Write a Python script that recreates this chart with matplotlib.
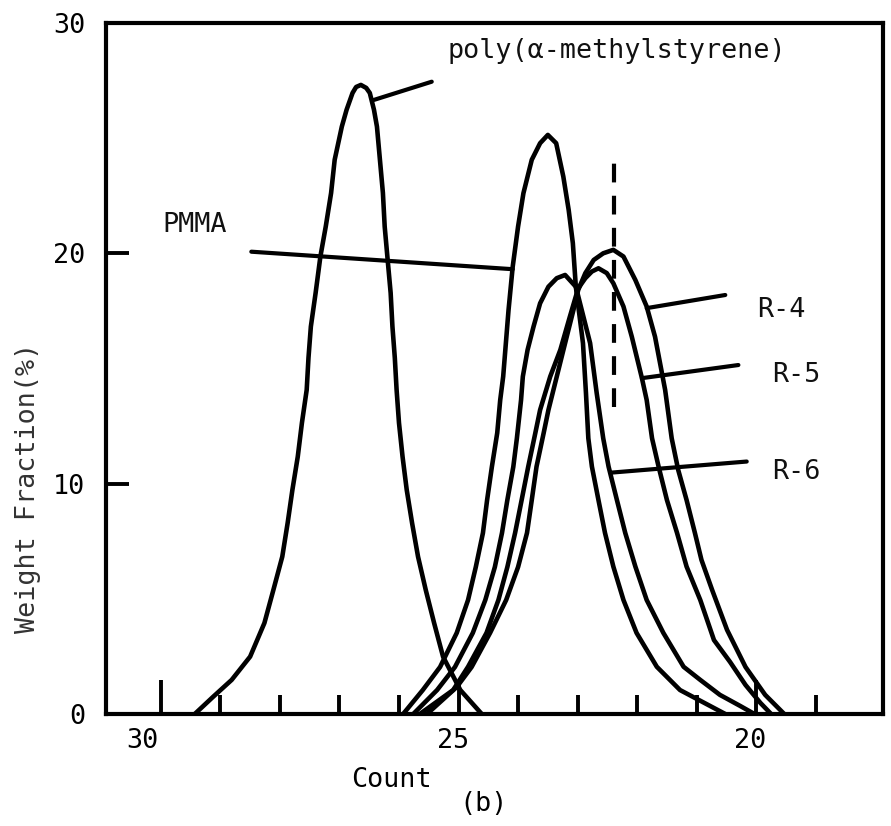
import matplotlib
matplotlib.use('Agg')
import matplotlib.pyplot as plt
from matplotlib.transforms import ScaledTranslation

plt.rcParams['font.family'] = ['DejaVu Sans Mono', 'DejaVu Sans']

# GPC traces (count, weight fraction %)
pams_count = [29.43, 29.12, 28.81, 28.50, 28.26, 28.11, 27.96, 27.87, 27.79, 27.70,
              27.63, 27.55, 27.52, 27.48, 27.40, 27.32, 27.23, 27.14, 27.08, 26.96,
              26.88, 26.78, 26.72, 26.64, 26.55, 26.49, 26.42, 26.37, 26.32, 26.27,
              26.24, 26.19, 26.14, 26.11, 26.07, 26.04, 26.00, 25.94, 25.87, 25.78,
              25.68, 25.55, 25.41, 25.26, 24.97, 24.61]
pams_wf = [0.0, 0.75, 1.48, 2.49, 3.95, 5.38, 6.83, 8.29, 9.73, 11.17,
           12.64, 14.07, 15.46, 16.82, 18.28, 19.86, 21.16, 22.62, 24.06, 25.50,
           26.23, 26.96, 27.22, 27.31, 27.18, 26.96, 26.23, 25.50, 24.06, 22.62,
           21.16, 19.71, 18.28, 16.82, 15.46, 14.07, 12.64, 11.17, 9.73, 8.29,
           6.83, 5.38, 3.95, 2.49, 1.04, 0.0]

pmma_count = [25.93, 25.60, 25.31, 25.03, 24.84, 24.71, 24.59, 24.52, 24.44, 24.35,
              24.30, 24.25, 24.16, 24.09, 24.00, 23.91, 23.77, 23.63, 23.50, 23.36,
              23.24, 23.15, 23.08, 23.03, 22.91, 22.86, 22.82, 22.76, 22.65, 22.54,
              22.40, 22.23, 22.01, 21.67, 21.28, 20.52]
pmma_wf = [0.0, 1.04, 2.04, 3.52, 4.95, 6.38, 7.86, 9.29, 10.73, 12.20,
           13.63, 14.65, 17.54, 19.42, 21.16, 22.61, 24.06, 24.78, 25.14, 24.78,
           23.33, 21.88, 20.44, 18.55, 16.10, 13.94, 11.97, 10.74, 9.29, 7.86,
           6.40, 4.95, 3.52, 2.05, 1.04, 0.0]

r6_count = [25.76, 25.36, 25.06, 24.76, 24.55, 24.39, 24.27, 24.18, 24.08, 24.02,
            23.95, 23.92, 23.84, 23.74, 23.63, 23.49, 23.35, 23.21, 23.03, 22.79,
            22.68, 22.57, 22.48, 22.34, 22.20, 22.03, 21.84, 21.56, 21.22, 20.94,
            20.61, 20.27, 20.03]
r6_wf = [0.0, 1.04, 2.04, 3.52, 4.95, 6.38, 7.86, 9.29, 10.73, 11.97,
         13.63, 14.65, 15.81, 16.82, 17.83, 18.55, 18.92, 19.06, 18.55, 16.10,
         13.94, 11.97, 10.74, 9.29, 7.86, 6.40, 4.95, 3.52, 2.05, 1.48,
         0.83, 0.35, 0.0]

r5_count = [25.65, 25.09, 24.84, 24.53, 24.33, 24.18, 24.05, 23.94, 23.83, 23.71,
            23.63, 23.46, 23.29, 23.13, 22.99, 22.87, 22.76, 22.65, 22.51, 22.40,
            22.23, 22.09, 21.92, 21.84, 21.75, 21.64, 21.50, 21.33, 21.17, 20.94,
            20.71, 20.44, 20.18, 19.93, 19.75]
r5_wf = [0.0, 1.04, 2.05, 3.52, 4.95, 6.38, 7.86, 9.29, 10.73, 12.20,
         13.20, 14.65, 15.81, 17.25, 18.48, 18.92, 19.21, 19.35, 19.14, 18.70,
         17.69, 16.38, 14.58, 13.63, 11.97, 10.74, 9.29, 7.86, 6.40, 4.95,
         3.21, 2.26, 1.26, 0.48, 0.0]

r4_count = [25.53, 25.03, 24.78, 24.47, 24.20, 24.00, 23.85, 23.77, 23.69, 23.57,
            23.49, 23.35, 23.21, 23.07, 22.99, 22.87, 22.73, 22.57, 22.40, 22.23,
            22.03, 21.84, 21.70, 21.53, 21.42, 21.31, 21.17, 21.03, 20.92, 20.74,
            20.49, 20.18, 19.85, 19.53]
r4_wf = [0.0, 1.17, 2.04, 3.52, 4.95, 6.38, 7.86, 9.29, 10.74, 12.20,
         13.20, 14.65, 16.10, 17.54, 18.41, 19.14, 19.71, 20.00, 20.15, 19.86,
         18.84, 17.69, 16.38, 14.07, 11.97, 10.59, 9.29, 7.86, 6.69, 5.38,
         3.65, 2.04, 0.83, 0.0]

# dashed marker line (count, wf from, wf to)
dash_count = 22.39
dash_wf = [13.33, 24.40]

# labels: text, text anchor, leader start on curve, leader end
labels = ['poly(α-methylstyrene)', 'PMMA', 'R-4', 'R-5', 'R-6']
label_pos = [(25.18, 28.48), (29.97, 20.93), (19.99, 17.24), (19.74, 14.42), (19.74, 10.20)]
leader_curve = [(26.42, 26.66), (24.09, 19.31), (21.84, 17.62), (21.92, 14.58), (22.43, 10.48)]
leader_end = [(25.45, 27.45), (28.48, 20.07), (20.52, 18.19), (20.30, 15.15), (20.16, 10.96)]

count_major = [30, 25, 20]
count_minor = [29, 28, 27, 26, 24, 23, 22, 21, 19]
wf_ticks = [0, 10, 20, 30]

fs = 19.3

fig = plt.figure(figsize=(8.91, 8.26), dpi=100, facecolor='white')
ax = fig.add_axes([0.1190, 0.1356, 0.8721, 0.8366])

lw = 3.3
for xs, ys in [(pams_count, pams_wf), (pmma_count, pmma_wf), (r6_count, r6_wf),
               (r5_count, r5_wf), (r4_count, r4_wf)]:
    ax.plot(xs, ys, color='black', lw=lw, solid_joinstyle='round', solid_capstyle='round')

ax.plot([dash_count, dash_count], dash_wf, color='black', lw=3.0, dashes=(4.5, 3.2))

for txt, tp, p0, p1 in zip(labels, label_pos, leader_curve, leader_end):
    ax.plot([p0[0], p1[0]], [p0[1], p1[1]], color='black', lw=3.0, solid_capstyle='round')
    ax.text(tp[0], tp[1], txt, fontsize=fs, ha='left', va='baseline', color='#111111')

ax.set_xlim(30.92, 17.87)
ax.set_ylim(0, 30)

ax.set_xticks(count_major)
ax.set_xticklabels([str(v) for v in count_major])
ax.set_xticks(count_minor, minor=True)
ax.set_yticks(wf_ticks)
ax.set_yticklabels([str(v) for v in wf_ticks])

ax.tick_params(axis='x', which='major', direction='in', length=24.5, width=2.8,
               pad=10, labelsize=fs)
ax.tick_params(axis='x', which='minor', direction='in', length=13.7, width=2.8)
ax.tick_params(axis='y', direction='in', length=16.5, width=2.8, pad=15, labelsize=fs)

# labels under the scan sit a little left of their ticks
for lab, dx in zip(ax.get_xticklabels(), [-18, -5, -6]):
    lab.set_transform(lab.get_transform() + ScaledTranslation(dx / 100, 0, fig.dpi_scale_trans))

for sp in ax.spines.values():
    sp.set_linewidth(3.0)

fig.text(28 / 891, 1 - 488 / 826, 'Weight Fraction(%)', rotation=90, fontsize=fs,
         ha='center', va='center', color='#333333')
fig.text(391 / 891, 1 - 780 / 826, 'Count', fontsize=fs, ha='center', va='center')
fig.text(484 / 891, 1 - 804 / 826, '(b)', fontsize=fs, ha='center', va='center')

fig.savefig('out.png', dpi=100, facecolor='white')
